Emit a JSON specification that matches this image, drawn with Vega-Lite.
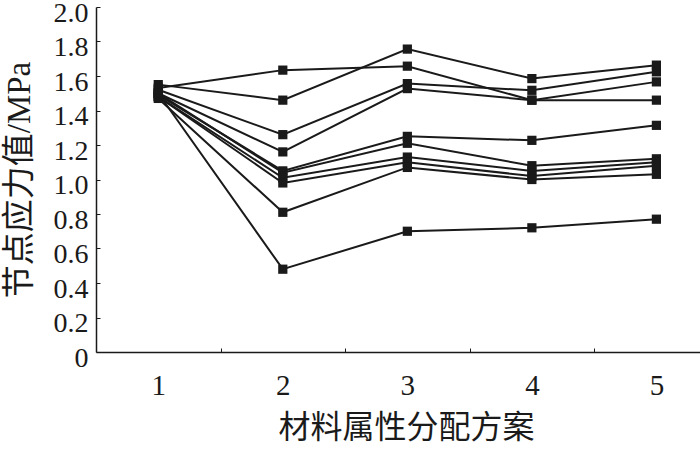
{
  "$schema": "https://vega.github.io/schema/vega-lite/v6.json",
  "autosize": "none",
  "width": 604,
  "height": 345,
  "padding": {"left": 96, "top": 7, "right": 0, "bottom": 97},
  "background": "white",
  "config": {"view": {"stroke": null}},
  "data": {"values": [
    {"s": "L1", "x": 1, "y": 1.55}, {"s": "L1", "x": 2, "y": 1.46}, {"s": "L1", "x": 3, "y": 1.756}, {"s": "L1", "x": 4, "y": 1.585}, {"s": "L1", "x": 5, "y": 1.663},
    {"s": "L2", "x": 1, "y": 1.53}, {"s": "L2", "x": 2, "y": 1.634}, {"s": "L2", "x": 3, "y": 1.657}, {"s": "L2", "x": 4, "y": 1.46}, {"s": "L2", "x": 5, "y": 1.46},
    {"s": "L3", "x": 1, "y": 1.52}, {"s": "L3", "x": 2, "y": 1.26}, {"s": "L3", "x": 3, "y": 1.556}, {"s": "L3", "x": 4, "y": 1.517}, {"s": "L3", "x": 5, "y": 1.624},
    {"s": "L4", "x": 1, "y": 1.5}, {"s": "L4", "x": 2, "y": 1.16}, {"s": "L4", "x": 3, "y": 1.527}, {"s": "L4", "x": 4, "y": 1.46}, {"s": "L4", "x": 5, "y": 1.566},
    {"s": "L5", "x": 1, "y": 1.49}, {"s": "L5", "x": 2, "y": 1.05}, {"s": "L5", "x": 3, "y": 1.25}, {"s": "L5", "x": 4, "y": 1.227}, {"s": "L5", "x": 5, "y": 1.314},
    {"s": "L6", "x": 1, "y": 1.5}, {"s": "L6", "x": 2, "y": 1.04}, {"s": "L6", "x": 3, "y": 1.21}, {"s": "L6", "x": 4, "y": 1.08}, {"s": "L6", "x": 5, "y": 1.12},
    {"s": "L7", "x": 1, "y": 1.48}, {"s": "L7", "x": 2, "y": 1.01}, {"s": "L7", "x": 3, "y": 1.13}, {"s": "L7", "x": 4, "y": 1.05}, {"s": "L7", "x": 5, "y": 1.1},
    {"s": "L8", "x": 1, "y": 1.48}, {"s": "L8", "x": 2, "y": 0.98}, {"s": "L8", "x": 3, "y": 1.1}, {"s": "L8", "x": 4, "y": 1.02}, {"s": "L8", "x": 5, "y": 1.08},
    {"s": "L9", "x": 1, "y": 1.47}, {"s": "L9", "x": 2, "y": 0.81}, {"s": "L9", "x": 3, "y": 1.07}, {"s": "L9", "x": 4, "y": 1.0}, {"s": "L9", "x": 5, "y": 1.03},
    {"s": "L10", "x": 1, "y": 1.5}, {"s": "L10", "x": 2, "y": 0.48}, {"s": "L10", "x": 3, "y": 0.7}, {"s": "L10", "x": 4, "y": 0.72}, {"s": "L10", "x": 5, "y": 0.77}
  ]},
  "encoding": {
    "x": {
      "field": "x", "type": "quantitative",
      "scale": {"domain": [0.5, 5.35], "nice": false, "zero": false},
      "axis": {
        "title": "材料属性分配方案",
        "titleFont": "Noto Sans CJK SC",
        "titleFontSize": 32,
        "titleFontWeight": "normal",
        "titleColor": "#1a1a1a",
        "titleX": 310,
        "titleY": 60,
        "titleBaseline": "top",
        "values": [1, 1.5, 2, 2.5, 3, 3.5, 4, 4.5, 5],
        "labelExpr": "datum.value % 1 == 0 ? format(datum.value, 'd') : ''",
        "labelFont": "Liberation Serif",
        "labelFontSize": 29,
        "labelColor": "#1a1a1a",
        "labelPadding": 23,
        "labelFlush": false,
        "labelOverlap": false,
        "tickSize": -4,
        "tickColor": "#1a1a1a",
        "tickWidth": 1,
        "tickOpacity": {"condition": {"test": "datum.value % 1 == 0", "value": 0}, "value": 1},
        "domainColor": "#1a1a1a",
        "domainWidth": 1.5,
        "grid": false
      }
    },
    "y": {
      "field": "y", "type": "quantitative",
      "scale": {"domain": [0, 2], "nice": false},
      "axis": {
        "title": "节点应力值/MPa",
        "titleFont": "Liberation Serif, Noto Sans CJK SC",
        "titleFontSize": 33,
        "titleFontWeight": "normal",
        "titleColor": "#1a1a1a",
        "titlePadding": 17,
        "values": [0, 0.2, 0.4, 0.6, 0.8, 1.0, 1.2, 1.4, 1.6, 1.8, 2.0],
        "labelExpr": "datum.value == 0 ? '0' : format(datum.value, '.1f')",
        "labelFont": "Liberation Serif",
        "labelFontSize": 28,
        "labelColor": "#1a1a1a",
        "labelPadding": 12,
        "labelOffset": 6,
        "labelFlush": false,
        "labelOverlap": false,
        "tickSize": -4,
        "tickColor": "#1a1a1a",
        "tickWidth": 1,
        "domainColor": "#1a1a1a",
        "domainWidth": 1.5,
        "grid": false
      }
    },
    "detail": {"field": "s", "type": "nominal"}
  },
  "layer": [
    {"mark": {"type": "line", "color": "#1a1a1a", "strokeWidth": 2}},
    {"mark": {"type": "point", "shape": "square", "filled": true, "color": "#1a1a1a", "size": 85, "opacity": 1}}
  ]
}
